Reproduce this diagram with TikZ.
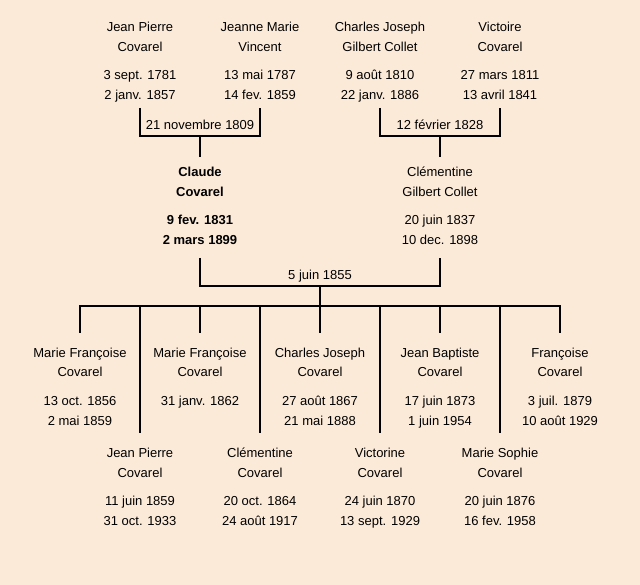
\documentclass[tikz,border=0pt]{standalone}
\usepackage{fontspec}
\setmainfont{Liberation Sans}
\definecolor{bgpeach}{RGB}{252,234,216}
\tikzset{
  txt/.style={anchor=base,inner sep=0pt,font=\fontsize{13}{15}\selectfont,text=black},
  txtb/.style={txt,font=\fontsize{13}{15}\selectfont\bfseries},
  ln/.style={line width=2.6pt,draw=black,line join=miter,line cap=butt},
}
\newcommand\pers[8]{%
  \node[#8] (#1-a) at ({#2},{#3}) {#4};
  \node[#8] (#1-b) at ({#2},{#3+20}) {#5};
  \node[#8] (#1-c) at ({#2},{#3+48}) {#6};
  \node[#8] (#1-d) at ({#2},{#3+68}) {#7};}
\begin{document}
\begin{tikzpicture}[x=1pt,y=-1pt]
\useasboundingbox (0,0) rectangle (640,585);
\fill[bgpeach] (0,0) rectangle (640,585);
% grandparents
\pers{jp}{140}{32}{Jean Pierre}{Covarel}{3 sept. 1781}{2 janv. 1857}{txt}
\pers{jm}{260}{32}{Jeanne Marie}{Vincent}{13 mai 1787}{14 fev. 1859}{txt}
\pers{cj}{380}{32}{Charles Joseph}{Gilbert Collet}{9 août 1810}{22 janv. 1886}{txt}
\pers{vi}{500}{32}{Victoire}{Covarel}{27 mars 1811}{13 avril 1841}{txt}
% parents
\pers{cl}{200}{177}{Claude}{Covarel}{9 fev. 1831}{2 mars 1899}{txtb}
\pers{ce}{440}{177}{Clémentine}{Gilbert Collet}{20 juin 1837}{10 dec. 1898}{txt}
% marriages
\node[txt] (m1) at (200,130) {21 novembre 1809};
\node[txt] (m2) at (440,130) {12 février 1828};
\node[txt] (m3) at (320,280) {5 juin 1855};
% children upper
\pers{k1}{80}{357}{Marie Françoise}{Covarel}{13 oct. 1856}{2 mai 1859}{txt}
\node[txt] (k3-a) at (200,357) {Marie Françoise};
\node[txt] (k3-b) at (200,377) {Covarel};
\node[txt] (k3-c) at (200,405) {31 janv. 1862};
\pers{k5}{320}{357}{Charles Joseph}{Covarel}{27 août 1867}{21 mai 1888}{txt}
\pers{k7}{440}{357}{Jean Baptiste}{Covarel}{17 juin 1873}{1 juin 1954}{txt}
\pers{k9}{560}{357}{Françoise}{Covarel}{3 juil. 1879}{10 août 1929}{txt}
% children lower
\pers{k2}{140}{457}{Jean Pierre}{Covarel}{11 juin 1859}{31 oct. 1933}{txt}
\pers{k4}{260}{457}{Clémentine}{Covarel}{20 oct. 1864}{24 août 1917}{txt}
\pers{k6}{380}{457}{Victorine}{Covarel}{24 juin 1870}{13 sept. 1929}{txt}
\pers{k8}{500}{457}{Marie Sophie}{Covarel}{20 juin 1876}{16 fev. 1958}{txt}
% connector coordinates
\coordinate (g1) at (140,108);
\coordinate (g2) at (260,108);
\coordinate (g3) at (380,108);
\coordinate (g4) at (500,108);
\coordinate (j1) at (200,136);
\coordinate (j2) at (440,136);
\coordinate (p1) at (200,157);
\coordinate (p2) at (440,157);
\coordinate (q1) at (200,258);
\coordinate (q2) at (440,258);
\coordinate (j3) at (320,286);
\coordinate (bar) at (320,306);
\foreach \x/\n in {80/1,140/2,200/3,260/4,320/5,380/6,440/7,500/8,560/9}{
  \coordinate (t\n) at (\x,306);}
\foreach \x/\n in {80/1,200/3,320/5,440/7,560/9}{
  \coordinate (e\n) at (\x,333);}
\foreach \x/\n in {140/2,260/4,380/6,500/8}{
  \coordinate (e\n) at (\x,433);}
% connectors
\draw[ln] (g1) |- (j1) -| (g2);
\draw[ln] (j1) -- (p1);
\draw[ln] (g3) |- (j2) -| (g4);
\draw[ln] (j2) -- (p2);
\draw[ln] (q1) |- (j3) -| (q2);
\draw[ln] (j3) -- (bar);
\draw[ln] (e1) |- (bar) -| (e9);
\foreach \n in {2,3,4,5,6,7,8}{\draw[ln] (t\n) -- (e\n);}
\end{tikzpicture}
\end{document}
